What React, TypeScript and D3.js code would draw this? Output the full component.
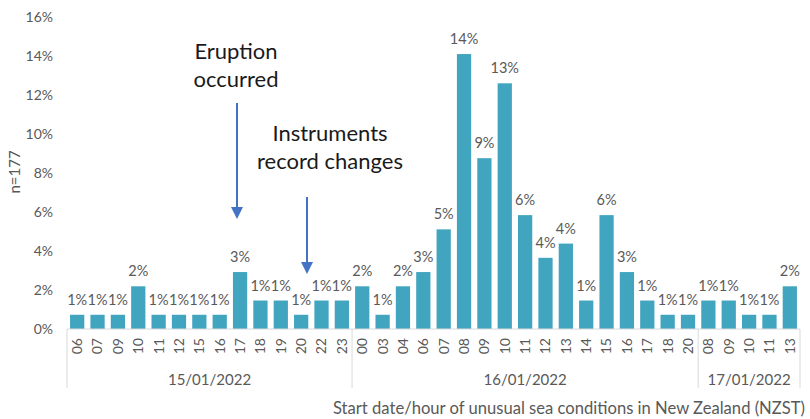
import * as d3 from "d3";

const days = ["15/01/2022", "16/01/2022", "17/01/2022"];
const hours = [
  ["06", "07", "09", "10", "11", "12", "15", "16", "17", "18", "19", "20", "22", "23"],
  ["00", "03", "04", "06", "07", "08", "09", "10", "11", "12", "13", "14", "15", "16", "17", "18", "20"],
  ["08", "09", "10", "11", "13"],
];
// share of reports (%) per start hour
const shares = [
  [0.73, 0.73, 0.73, 2.19, 0.73, 0.73, 0.73, 0.73, 2.92, 1.46, 1.46, 0.73, 1.46, 1.46],
  [2.19, 0.73, 2.19, 2.92, 5.11, 14.1, 8.76, 12.6, 5.84, 3.65, 4.38, 1.46, 5.84, 2.92, 1.46, 0.73, 0.73],
  [1.46, 1.46, 0.73, 0.73, 2.19],
];
const yTicks = [0, 2, 4, 6, 8, 10, 12, 14, 16];

const W = 810;
const H = 419;
const font = "Lato, 'Open Sans', sans-serif";
const grey = "#595959";
const barColor = "#41a5bf";
const arrowColor = "#4472c4";

type Bar = { key: string; hour: string; day: number; value: number };

const bars: Bar[] = hours.flatMap((hs, di) =>
  hs.map((h, i) => ({ key: `${di}-${h}`, hour: h, day: di, value: shares[di][i] }))
);

const x = d3
  .scaleBand<string>()
  .domain(bars.map((b) => b.key))
  .range([67, 800])
  .paddingInner(0.3)
  .paddingOuter(0.15);
const y = d3.scaleLinear().domain([0, 16]).range([329, 17]);

const gap = (x.step() - x.bandwidth()) / 2;
const groupStart = (di: number) => x(bars.find((b) => b.day === di)!.key)! - gap;
const groupEnd = (di: number) => {
  const last = bars.filter((b) => b.day === di).pop()!;
  return x(last.key)! + x.bandwidth() + gap;
};

function Arrow({ cx, y0, y1 }: { cx: number; y0: number; y1: number }) {
  return (
    <g>
      <line x1={cx} x2={cx} y1={y0} y2={y1 - 10} stroke={arrowColor} strokeWidth={2} />
      <path d={`M${cx - 6},${y1 - 12}L${cx + 6},${y1 - 12}L${cx},${y1}Z`} fill={arrowColor} />
    </g>
  );
}

export default function App() {
  const base = y(0);
  const separators = Array.from(new Set([...days.map((_, i) => groupStart(i)), groupEnd(days.length - 1)]));

  return (
    <svg
      width={W}
      height={H}
      style={{ position: "absolute", left: 0, top: 0, background: "#fff" }}
      fontFamily={font}
    >
      {/* y axis labels */}
      {yTicks.map((t) => (
        <text key={t} x={53} y={y(t)} dy="0.35em" textAnchor="end" fontSize={14} fill={grey}>
          {t}%
        </text>
      ))}
      <text
        transform={`translate(15,172) rotate(-90)`}
        textAnchor="middle"
        dy="0.35em"
        fontSize={15}
        fill={grey}
      >
        n=177
      </text>

      {/* bars + labels */}
      {bars.map((b) => {
        const bx = x(b.key)!;
        const cx = bx + x.bandwidth() / 2;
        return (
          <g key={b.key}>
            <rect x={bx} y={y(b.value)} width={x.bandwidth()} height={base - y(b.value)} fill={barColor} />
            <text x={cx} y={y(b.value) - 10} textAnchor="middle" fontSize={14.5} fill={grey}>
              {Math.round(b.value)}%
            </text>
            <text
              transform={`translate(${cx},338) rotate(-90)`}
              textAnchor="end"
              dy="0.35em"
              fontSize={14}
              fill={grey}
            >
              {b.hour}
            </text>
          </g>
        );
      })}

      {/* category axis */}
      <line x1={x.range()[0]} x2={x.range()[1]} y1={base} y2={base} stroke="#d9d9d9" strokeWidth={1} />
      {separators.map((sx, i) => (
        <line key={i} x1={sx} x2={sx} y1={base} y2={388} stroke="#d9d9d9" strokeWidth={1} />
      ))}
      {days.map((d, i) => (
        <text
          key={d}
          x={(groupStart(i) + groupEnd(i)) / 2}
          y={385}
          textAnchor="middle"
          fontSize={15}
          fill={grey}
        >
          {d}
        </text>
      ))}
      <text x={805} y={414} textAnchor="end" fontSize={16.6} fill={grey}>
        Start date/hour of unusual sea conditions in New Zealand (NZST)
      </text>

      {/* annotations */}
      <text x={236} y={59} textAnchor="middle" fontSize={22} fill="#1a1a1a">
        Eruption
      </text>
      <text x={236} y={87} textAnchor="middle" fontSize={22} fill="#1a1a1a">
        occurred
      </text>
      <Arrow cx={237} y0={103} y1={219} />
      <text x={330} y={141} textAnchor="middle" fontSize={22} fill="#1a1a1a">
        Instruments
      </text>
      <text x={330} y={169} textAnchor="middle" fontSize={22} fill="#1a1a1a">
        record changes
      </text>
      <Arrow cx={307} y0={197} y1={274} />
    </svg>
  );
}
